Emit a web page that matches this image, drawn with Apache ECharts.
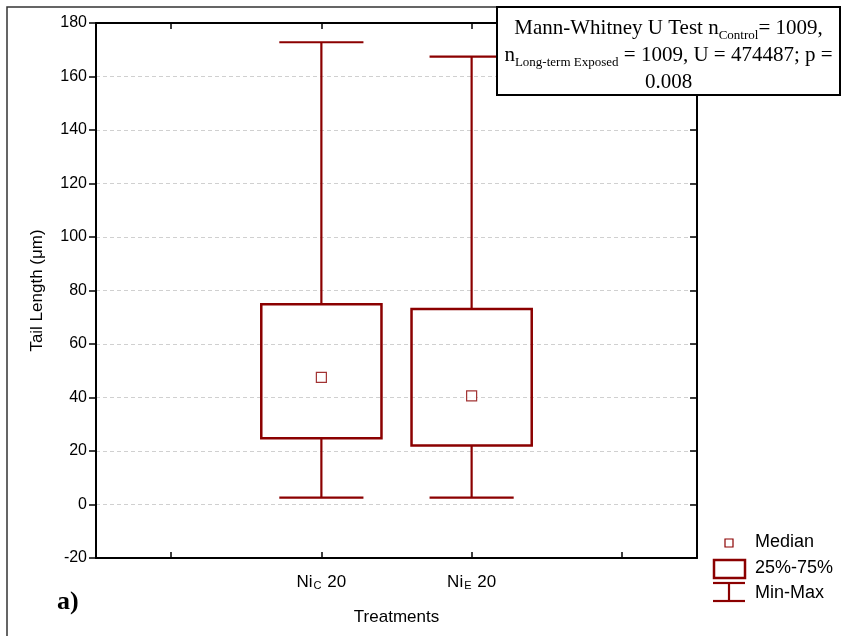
<!DOCTYPE html>
<html>
<head>
<meta charset="utf-8">
<script src="https://cdn.jsdelivr.net/npm/echarts@6/dist/echarts.min.js"></script>
<style>
html,body{margin:0;padding:0;background:#fff;}
#chart{width:843px;height:636px;}
</style>
</head>
<body>
<div id="chart"></div>
<script>
// ---- data ----
const categories = ['', 'Ni_C 20', 'Ni_E 20', ''];
const boxCategory = ['Ni_C 20', 'Ni_E 20'];
const boxMin = [2.6, 2.6];
const boxQ1 = [24.8, 22.1];
const boxMedian = [47.5, 40.6];
const boxQ3 = [74.9, 73.1];
const boxMax = [172.8, 167.4];
const yMin = -20, yMax = 180, yStep = 20;
const xTitle = 'Treatments';
const yTitle = 'Tail Length (μm)';
const legendLabels = ['Median', '25%-75%', 'Min-Max'];
const panelLabel = 'a)';

const RED = '#8b0000';
const SANS = '"Liberation Sans", Arial, sans-serif';
const SERIF = '"Liberation Serif", "Times New Roman", serif';

const chart = echarts.init(document.getElementById('chart'), null, {renderer: 'canvas'});

function catLabel(v) {
  if (!v) return '';
  const m = v.match(/^(\w+?)_(\w)(.*)$/);
  if (!m) return '{n|' + v + '}';
  return '{n|' + m[1] + '}{s|' + m[2] + '}{n|' + m[3] + '}';
}

const boxData = boxCategory.map((c, i) => [c, boxMin[i], boxQ1[i], boxMedian[i], boxQ3[i], boxMax[i]]);
const medianData = boxCategory.map((c, i) => [c, boxMedian[i]]);

function renderBox(params, api) {
  const x = api.value(0);
  const bw = api.size([1, 0])[0];
  const pMin = api.coord([x, api.value(1)]);
  const pQ1 = api.coord([x, api.value(2)]);
  const pQ3 = api.coord([x, api.value(4)]);
  const pMax = api.coord([x, api.value(5)]);
  const half = bw * 0.4;
  const cap = bw * 0.28;
  const cx = pQ1[0];
  const lineStyle = {stroke: RED, lineWidth: 2.2, fill: null};
  return {
    type: 'group',
    children: [
      {type: 'line', shape: {x1: cx, y1: pMax[1], x2: cx, y2: pQ3[1]}, style: lineStyle},
      {type: 'line', shape: {x1: cx, y1: pQ1[1], x2: cx, y2: pMin[1]}, style: lineStyle},
      {type: 'line', shape: {x1: cx - cap, y1: pMax[1], x2: cx + cap, y2: pMax[1]}, style: lineStyle},
      {type: 'line', shape: {x1: cx - cap, y1: pMin[1], x2: cx + cap, y2: pMin[1]}, style: lineStyle},
      {type: 'rect', shape: {x: cx - half, y: pQ3[1], width: half * 2, height: pQ1[1] - pQ3[1]},
        style: {stroke: RED, lineWidth: 2.5, fill: 'rgba(255,255,255,0)'}}
    ]
  };
}

const axisLineStyle = {color: '#000', width: 2};

const option = {
  animation: false,
  backgroundColor: '#fff',
  grid: {left: 96, right: 146, top: 23, bottom: 78, containLabel: false},
  xAxis: [
    {
      type: 'category', data: categories, position: 'bottom', boundaryGap: true,
      axisLine: {show: true, onZero: false, lineStyle: axisLineStyle},
      axisTick: {show: true, inside: true, alignWithLabel: true, length: 6, lineStyle: {color: '#000', width: 1.5}},
      axisLabel: {
        show: true, interval: 0, margin: 16,
        formatter: catLabel,
        rich: {
          n: {fontFamily: SANS, fontSize: 17, color: '#000'},
          s: {fontFamily: SANS, fontSize: 11, color: '#000', verticalAlign: 'bottom', padding: [6, 1, 0, 1]}
        }
      },
      splitLine: {show: false},
      name: xTitle, nameLocation: 'middle', nameGap: 51,
      nameTextStyle: {fontFamily: SANS, fontSize: 17, color: '#000'}
    },
    {
      type: 'category', data: categories, position: 'top', boundaryGap: true,
      axisLine: {show: true, onZero: false, lineStyle: axisLineStyle},
      axisTick: {show: true, inside: true, alignWithLabel: true, length: 6, lineStyle: {color: '#000', width: 1.5}},
      axisLabel: {show: false},
      splitLine: {show: false}
    }
  ],
  yAxis: [
    {
      type: 'value', position: 'left', min: yMin, max: yMax, interval: yStep,
      axisLine: {show: true, onZero: false, lineStyle: axisLineStyle},
      axisTick: {show: true, inside: false, length: 7, lineStyle: {color: '#000', width: 1.5}},
      axisLabel: {show: true, margin: 9, fontFamily: SANS, fontSize: 16, color: '#000'},
      splitLine: {show: true, lineStyle: {color: '#d0d0d0', width: 1, type: [4, 3]}},
      name: yTitle, nameLocation: 'middle', nameGap: 50, nameRotate: 90,
      nameTextStyle: {fontFamily: SANS, fontSize: 17, color: '#000'}
    },
    {
      type: 'value', position: 'right', min: yMin, max: yMax, interval: yStep,
      axisLine: {show: true, onZero: false, lineStyle: axisLineStyle},
      axisTick: {show: true, inside: true, length: 7, lineStyle: {color: '#000', width: 1.5}},
      axisLabel: {show: false},
      splitLine: {show: false}
    }
  ],
  series: [
    {
      name: 'box', type: 'custom', xAxisIndex: 0, yAxisIndex: 0,
      renderItem: renderBox, data: boxData, z: 3,
      encode: {x: 0, y: [1, 2, 3, 4, 5]}
    },
    {
      name: 'Median', type: 'scatter', xAxisIndex: 0, yAxisIndex: 0,
      symbol: 'rect', symbolSize: 10, data: medianData, z: 4,
      itemStyle: {color: '#fff', borderColor: RED, borderWidth: 1.2}
    }
  ],
  graphic: [
    {type: 'polyline', z: 100, silent: true,
      shape: {points: [[7, 700], [7, 7], [500, 7]]},
      style: {fill: null, stroke: '#333', lineWidth: 1.5}},
    {type: 'rect', z: 100, silent: true,
      shape: {x: 497, y: 7, width: 343, height: 88},
      style: {fill: '#fff', stroke: '#000', lineWidth: 2}},
    {type: 'text', z: 101, silent: true, x: 668.5, y: 15,
      style: {
        align: 'center', verticalAlign: 'top',
        text: '{m|Mann-Whitney U Test n}{s|Control}{m|= 1009,}\n{m|n}{s|Long-term Exposed}{m| = 1009, U = 474487; p =}\n{m|0.008}',
        rich: {
          m: {fontFamily: SERIF, fontSize: 21, color: '#000', lineHeight: 27, align: 'center'},
          s: {fontFamily: SERIF, fontSize: 13, color: '#000', lineHeight: 27, align: 'center', verticalAlign: 'bottom', padding: [8, 0, 0, 0]}
        }
      }},
    // legend
    {type: 'rect', z: 100, silent: true, shape: {x: 725, y: 539, width: 8, height: 8},
      style: {fill: '#fff', stroke: RED, lineWidth: 1.2}},
    {type: 'text', z: 100, silent: true, left: 755, top: 533,
      style: {text: legendLabels[0], fontFamily: SANS, fontSize: 18, fill: '#000'}},
    {type: 'rect', z: 100, silent: true, shape: {x: 714, y: 560, width: 31, height: 18},
      style: {fill: '#fff', stroke: RED, lineWidth: 2.5}},
    {type: 'text', z: 100, silent: true, left: 755, top: 559,
      style: {text: legendLabels[1], fontFamily: SANS, fontSize: 18, fill: '#000'}},
    {type: 'line', z: 100, silent: true, shape: {x1: 713, y1: 583, x2: 745, y2: 583},
      style: {stroke: RED, lineWidth: 2.2}},
    {type: 'line', z: 100, silent: true, shape: {x1: 713, y1: 601, x2: 745, y2: 601},
      style: {stroke: RED, lineWidth: 2.2}},
    {type: 'line', z: 100, silent: true, shape: {x1: 729, y1: 583, x2: 729, y2: 601},
      style: {stroke: RED, lineWidth: 2.2}},
    {type: 'text', z: 100, silent: true, left: 755, top: 584,
      style: {text: legendLabels[2], fontFamily: SANS, fontSize: 18, fill: '#000'}},
    // panel label
    {type: 'text', z: 100, silent: true, left: 57, top: 589,
      style: {text: panelLabel, fontFamily: SERIF, fontSize: 26, fontWeight: 'bold', fill: '#000'}}
  ]
};

chart.setOption(option);
</script>
</body>
</html>
